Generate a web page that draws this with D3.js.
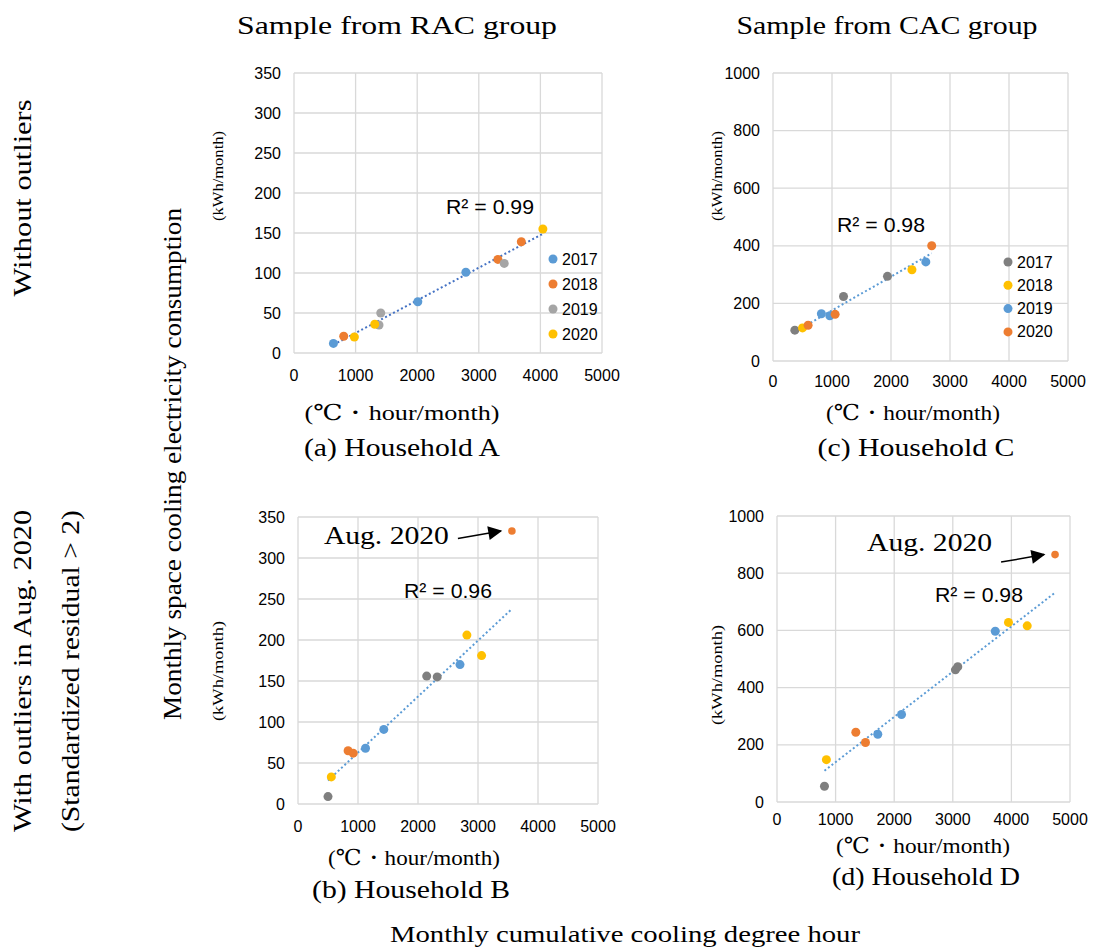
<!DOCTYPE html>
<html>
<head>
<meta charset="utf-8">
<script src="https://cdn.jsdelivr.net/npm/d3@7"></script>
<style>
  body { margin: 0; background: #fff; }
  svg text { fill: #000; }
</style>
</head>
<body>
<div id="chart"></div>
<script>
// 数据 - 每户的点: [年份, 冷却度时, 用电量]
const years = ["2017", "2018", "2019", "2020"];
const xTicks = [0, 1000, 2000, 3000, 4000, 5000];
const yTicksRAC = [0, 50, 100, 150, 200, 250, 300, 350];
const yTicksCAC = [0, 200, 400, 600, 800, 1000];

const ptsA = [
  ["2017", 640, 12], ["2017", 2010, 64], ["2017", 2790, 101],
  ["2018", 807, 21], ["2018", 3310, 117], ["2018", 3690, 139],
  ["2019", 1408, 50], ["2019", 1380, 35], ["2019", 3413, 112],
  ["2020", 980, 20], ["2020", 1311, 36], ["2020", 4040, 155]
];
const ptsC = [
  ["2017", 370, 107], ["2017", 1195, 224], ["2017", 1940, 294],
  ["2018", 500, 115], ["2018", 2355, 317],
  ["2019", 820, 164], ["2019", 963, 157], ["2019", 2590, 344],
  ["2020", 595, 124], ["2020", 1053, 162], ["2020", 2690, 400]
];
const ptsB = [
  ["2017", 500, 9], ["2017", 2145, 156], ["2017", 2320, 155],
  ["2018", 555, 33], ["2018", 2815, 206], ["2018", 3060, 181],
  ["2019", 1125, 68], ["2019", 1430, 91], ["2019", 2700, 170],
  ["2020", 835, 65], ["2020", 920, 62]
];
const ptsD = [
  ["2017", 810, 55], ["2017", 3045, 462], ["2017", 3085, 473],
  ["2018", 843, 148], ["2018", 3950, 628], ["2018", 4270, 616],
  ["2019", 1720, 237], ["2019", 2125, 306], ["2019", 3725, 597],
  ["2020", 1345, 244], ["2020", 1510, 208]
];
const outlierB = ["2020", 3565, 333];
const outlierD = ["2020", 4745, 865];

const colorsRAC = ["#5B9BD5", "#ED7D31", "#A5A5A5", "#FFC000"];
const colorsCAC = ["#7F7F7F", "#FFC000", "#5B9BD5", "#ED7D31"];

const serif = "'Liberation Serif', 'DejaVu Serif', serif";
const sans = "'Liberation Sans', Arial, sans-serif";

const svg = d3.select("#chart").append("svg")
  .attr("width", 1093).attr("height", 949);

// 面板布局
const panels = [
  { pts: ptsA, outlier: null, left: 294, top: 73, w: 308, h: 280, yTicks: yTicksRAC,
    colors: colorsRAC, legend: { x: 553, y: 259, dy: 25 }, r2: "R² = 0.99", r2x: 446, r2y: 207,
    trend: "#4472C4", xLabY: 375 },
  { pts: ptsC, outlier: null, left: 773, top: 73, w: 295, h: 288, yTicks: yTicksCAC,
    colors: colorsCAC, legend: { x: 1008, y: 262, dy: 23.3 }, r2: "R² = 0.98", r2x: 837, r2y: 225,
    trend: "#5B9BD5", xLabY: 381 },
  { pts: ptsB, outlier: outlierB, left: 298, top: 517, w: 300, h: 287, yTicks: yTicksRAC,
    colors: colorsCAC, legend: null, r2: "R² = 0.96", r2x: 404, r2y: 591,
    trend: "#5B9BD5", xLabY: 826, aug: 535 },
  { pts: ptsD, outlier: outlierD, left: 777, top: 516, w: 293, h: 286, yTicks: yTicksCAC,
    colors: colorsCAC, legend: null, r2: "R² = 0.98", r2x: 935, r2y: 595,
    trend: "#5B9BD5", xLabY: 819, aug: 542 }
];

svg.append("defs").append("marker")
  .attr("id", "arrow").attr("viewBox", "0 0 10 10")
  .attr("refX", 9).attr("refY", 5)
  .attr("markerWidth", 18).attr("markerHeight", 14)
  .attr("markerUnits", "userSpaceOnUse").attr("orient", "auto")
  .append("path").attr("d", "M0,0 L10,5 L0,10 z").attr("fill", "#000");

panels.forEach(p => {
  const x = d3.scaleLinear().domain([0, 5000]).range([p.left, p.left + p.w]);
  const yMax = p.yTicks[p.yTicks.length - 1];
  const y = d3.scaleLinear().domain([0, yMax]).range([p.top + p.h, p.top]);
  const color = d3.scaleOrdinal().domain(years).range(p.colors);
  const g = svg.append("g");

  // 网格
  g.selectAll(".hg").data(p.yTicks).enter().append("line")
    .attr("x1", p.left).attr("x2", p.left + p.w)
    .attr("y1", d => y(d)).attr("y2", d => y(d))
    .attr("stroke", "#D9D9D9").attr("stroke-width", 1.3);
  g.selectAll(".vg").data(xTicks).enter().append("line")
    .attr("x1", d => x(d)).attr("x2", d => x(d))
    .attr("y1", p.top).attr("y2", p.top + p.h)
    .attr("stroke", "#D9D9D9").attr("stroke-width", 1.3);

  // 刻度标签
  g.selectAll(".yl").data(p.yTicks).enter().append("text")
    .attr("x", p.left - 13).attr("y", d => y(d))
    .attr("text-anchor", "end").attr("dominant-baseline", "central")
    .style("font-family", sans).style("font-size", "16px")
    .text(d => d);
  g.selectAll(".xl").data(xTicks).enter().append("text")
    .attr("x", d => x(d)).attr("y", p.xLabY)
    .attr("text-anchor", "middle").attr("dominant-baseline", "central")
    .style("font-family", sans).style("font-size", "16px")
    .text(d => d);

  // 趋势线 (最小二乘, 不含异常点)
  const xs = p.pts.map(d => d[1]), ys = p.pts.map(d => d[2]);
  const mx = d3.mean(xs), my = d3.mean(ys);
  const slope = d3.sum(xs, (v, i) => (v - mx) * (ys[i] - my)) / d3.sum(xs, v => (v - mx) * (v - mx));
  const icpt = my - slope * mx;
  const allX = p.outlier ? xs.concat([p.outlier[1]]) : xs;
  const x0 = d3.min(allX), x1 = d3.max(allX);
  g.append("line")
    .attr("x1", x(x0)).attr("y1", y(icpt + slope * x0))
    .attr("x2", x(x1)).attr("y2", y(icpt + slope * x1))
    .attr("stroke", p.trend).attr("stroke-width", 2)
    .attr("stroke-dasharray", "2,2.5");

  // 散点
  g.selectAll(".pt").data(p.pts).enter().append("circle")
    .attr("cx", d => x(d[1])).attr("cy", d => y(d[2]))
    .attr("r", 4.5).attr("fill", d => color(d[0]));

  if (p.outlier) {
    const ox = x(p.outlier[1]), oy = y(p.outlier[2]);
    g.append("circle").attr("cx", ox).attr("cy", oy).attr("r", 3.8)
      .attr("fill", color(p.outlier[0]));
    g.append("line")
      .attr("x1", ox - 54).attr("y1", oy + 7.5)
      .attr("x2", ox - 11).attr("y2", oy)
      .attr("stroke", "#000").attr("stroke-width", 1.5)
      .attr("marker-end", "url(#arrow)");
    g.append("text")
      .attr("x", ox - 63).attr("y", p.aug)
      .attr("text-anchor", "end").attr("dominant-baseline", "central")
      .attr("textLength", 125).attr("lengthAdjust", "spacingAndGlyphs")
      .style("font-family", serif).style("font-size", "26px")
      .text("Aug. 2020");
  }

  // R²
  g.append("text")
    .attr("x", p.r2x).attr("y", p.r2y)
    .attr("dominant-baseline", "central")
    .attr("textLength", 88).attr("lengthAdjust", "spacingAndGlyphs")
    .style("font-family", sans).style("font-size", "20px")
    .text(p.r2);

  // 图例
  if (p.legend) {
    const lg = g.selectAll(".lg").data(years).enter().append("g")
      .attr("transform", (d, i) => `translate(${p.legend.x},${p.legend.y + i * p.legend.dy})`);
    lg.append("circle").attr("r", 4.5).attr("fill", d => color(d));
    lg.append("text").attr("x", 9).attr("dominant-baseline", "central")
      .style("font-family", sans).style("font-size", "16px")
      .text(d => d);
  }
});

// 文字标签
function label(txt, cx, cy, size, len, rot) {
  const t = svg.append("text")
    .attr("text-anchor", "middle").attr("dominant-baseline", "central")
    .attr("transform", `translate(${cx},${cy})` + (rot ? " rotate(-90)" : ""))
    .style("font-family", serif).style("font-size", size + "px")
    .text(txt);
  if (len) t.attr("textLength", len).attr("lengthAdjust", "spacingAndGlyphs");
  return t;
}

label("Sample  from  RAC  group", 397, 25, 25, 320);
label("Sample  from  CAC  group", 887, 25, 25, 301);
label("Without outliers", 22, 198, 26, 197, true);
label("With outliers in Aug. 2020", 22, 671, 26, 322, true);
label("(Standardized residual > 2)", 70, 671, 26, 322, true);
label("Monthly space cooling electricity consumption", 172, 464, 26, 512, true);
label("(kWh/month)", 218, 176, 15, 90, true);
label("(kWh/month)", 218, 671, 15, 100, true);
label("(kWh/month)", 717, 176, 15, 90, true);
label("(kWh/month)", 717, 675, 15, 100, true);
label("(℃・hour/month)", 402, 412, 22, 195);
label("(a) Household A", 402, 447, 26, 196);
label("(℃・hour/month)", 913, 412, 22, 174);
label("(c) Household C", 916, 447, 26, 197);
label("(℃・hour/month)", 414, 857, 22, 172);
label("(b) Household B", 411, 889, 26, 198);
label("(℃・hour/month)", 923, 845, 22, 174);
label("(d) Household D", 926, 876, 26, 188);
label("Monthly cumulative cooling degree hour", 625, 934, 24, 470);
</script>
</body>
</html>
